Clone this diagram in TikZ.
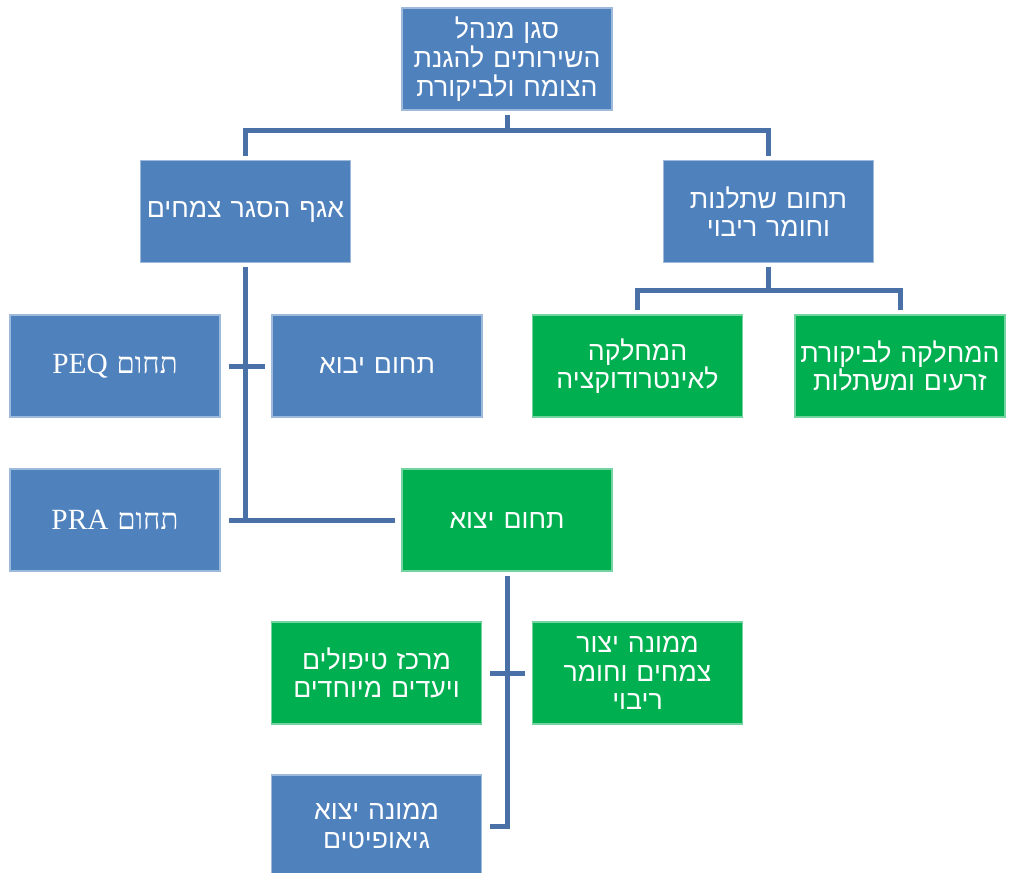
\documentclass[tikz,border=0pt]{standalone}
\usepackage{fontspec}
\setmainfont{Liberation Serif}
\newfontfamily\hebfont[Script=Hebrew]{Liberation Sans}
\newfontfamily\hebserif[Script=Hebrew]{Liberation Serif}
\TeXXeTstate=1

\definecolor{orgblue}{RGB}{79,129,189}
\definecolor{orggreen}{RGB}{0,176,80}
\definecolor{orgline}{RGB}{74,112,168}

\newcommand{\heb}[1]{\mbox{\hebfont\beginR #1\endR}}
\newcommand{\hebrm}[1]{\mbox{\hebserif\fontsize{22}{21}\selectfont\beginR #1\endR}}

\begin{document}
\begin{tikzpicture}[x=0.75pt, y=-0.75pt,
	box/.style={rectangle, minimum width=157.5pt, minimum height=76.5pt, text width=152pt, inner sep=1pt, align=center, text=white, font=\fontsize{20}{21.5}\selectfont, line width=0.8pt},
	bluebox/.style={box, fill=orgblue, draw=orgblue!55!white},
	greenbox/.style={box, fill=orggreen, draw=orggreen!55!white},
	conn/.style={draw=orgline, line width=3.75pt}]
	\fill[white] (0,0) rectangle (1009,872);
	\useasboundingbox (0,0) rectangle (1009,872);

	\node[bluebox] (deputy) at (507,59) {\heb{סגן מנהל}\\\heb{השירותים להגנת}\\\heb{הצומח ולביקורת}};
	\node[bluebox] (quarantine) at (245.5,211.5) {\heb{אגף הסגר צמחים}};
	\node[bluebox] (nursery) at (768.5,211.5) {\heb{תחום שתלנות}\\\heb{וחומר ריבוי}};
	\node[greenbox] (intro) at (637.5,366) {\heb{המחלקה}\\\heb{לאינטרודוקציה}};
	\node[greenbox] (seeds) at (900,366) {\heb{המחלקה לביקורת}\\\heb{זרעים ומשתלות}};
	\node[bluebox] (peq) at (115,366) {\hebrm{תחום \beginL PEQ\endL}};
	\node[bluebox] (import) at (377,366) {\heb{תחום יבוא}};
	\node[bluebox] (pra) at (115,520) {\hebrm{תחום \beginL PRA\endL}};
	\node[greenbox] (export) at (507,520) {\heb{תחום יצוא}};
	\node[greenbox] (treat) at (376.5,673) {\heb{מרכז טיפולים}\\\heb{ויעדים מיוחדים}};
	\node[greenbox] (prod) at (637.5,673) {\heb{ממונה יצור}\\\heb{צמחים וחומר}\\\heb{ריבוי}};
	\node[bluebox] (geo) at (376.5,826) {\heb{ממונה יצוא}\\\heb{גיאופיטים}};

	% connectors
	\coordinate (hq bus) at (507,130);
	\coordinate (nursery bus) at (768.5,290);
	\draw[conn, shorten <=3pt] (deputy.south) -- (hq bus);
	\draw[conn, shorten <=3pt, shorten >=3pt] (quarantine.north) |- (hq bus) -| (nursery.north);
	\draw[conn, shorten <=3pt] (nursery.south) -- (nursery bus);
	\draw[conn, shorten <=3pt, shorten >=3pt] (intro.north) |- (nursery bus) -| (seeds.north);
	\draw[conn, shorten <=3pt, shorten >=5pt] (quarantine.south) |- (export.west);
	\draw[conn, shorten <=6pt, shorten >=5pt] (pra.east) -- (export.west);
	\draw[conn, shorten <=6pt, shorten >=5pt] (peq.east) -- (import.west);
	\draw[conn, shorten <=3pt, shorten >=6pt] (export.south) |- (geo.east);
	\draw[conn, shorten <=6pt, shorten >=5pt] (treat.east) -- (prod.west);
\end{tikzpicture}
\end{document}
